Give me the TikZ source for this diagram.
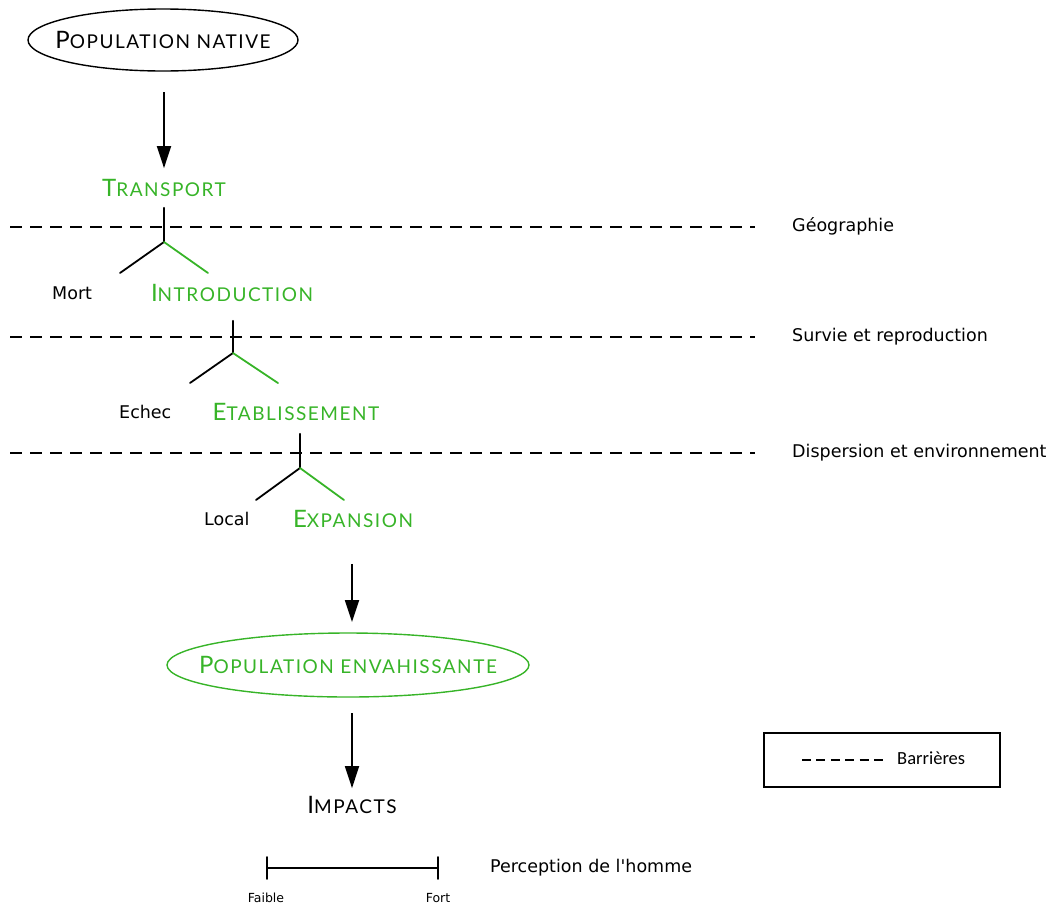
\documentclass[tikz,border=0pt]{standalone}
\usepackage{fontspec}
\setmainfont{DejaVu Sans}[Ligatures=TeXOff]
\newfontfamily\scfont{Lato}[LetterSpace=8]
\newfontfamily\legfont{Carlito}
\usetikzlibrary{arrows.meta,shapes.geometric}
\definecolor{grn}{RGB}{55,180,40}
\newcommand\SC[2]{{\fontsize{24}{24}\selectfont #1}{\fontsize{19}{19}\selectfont #2}}
\begin{document}
\begin{tikzpicture}[x=1pt,y=-1pt,
  ln/.style={line width=1.8pt,line cap=round},
  arr/.style={line width=1.8pt,-{Triangle[length=22pt,width=14pt]}},
  barrier/.style={line width=1.8pt,dash pattern=on 12pt off 8pt},
  scn/.style={font=\scfont,inner sep=0pt,anchor=center},
  lab/.style={font=\fontsize{17.5}{17.5}\selectfont,inner sep=0pt,anchor=mid west},
  sml/.style={font=\fontsize{12.5}{12.5}\selectfont,inner sep=0pt,anchor=center}]
\useasboundingbox (0,0) rectangle (1059,908);
% top ellipse
\node[scn] (native) at (163,40) {\SC{P}{OPULATION NATIVE}};
\draw[line width=1.4pt] (native.center) ellipse [x radius=135, y radius=31];
\coordinate (ntop) at (163,9); \coordinate (nbot) at (163,71);
\node[scn,text=grn] (transport) at (164,188) {\SC{T}{RANSPORT}};
\coordinate (f1) at (164,242);
\draw[arr,shorten <=21pt,shorten >=11pt] (nbot -| f1) -- (transport.north -| f1);
% barrier 1
\coordinate (b1l) at (10,227); \coordinate (b1r) at (755,227);
\draw[barrier] (b1l) -- (b1r);
\node[lab] (geo) at (792,229) {Géographie};
\coordinate (f1l) at (120,273); \coordinate (f1r) at (208,273);
\draw[ln,shorten <=11pt] (transport.south -| f1) -- (f1);
\draw[ln] (f1) -- (f1l);
\draw[ln,grn] (f1) -- (f1r);
\node[lab] (mort) at (52,297) {Mort};
\node[scn,text=grn] (intro) at (232,293) {\SC{I}{NTRODUCTION}};
% barrier 2
\coordinate (b2l) at (10,337); \coordinate (b2r) at (755,337);
\draw[barrier] (b2l) -- (b2r);
\node[lab] (surv) at (792,339) {Survie et reproduction};
\coordinate (f2) at (233,353);
\coordinate (f2l) at (190,383); \coordinate (f2r) at (278,383);
\draw[ln,shorten <=19pt] (intro.south -| f2) -- (f2);
\draw[ln] (f2) -- (f2l);
\draw[ln,grn] (f2) -- (f2r);
\node[lab] (echec) at (119,416) {Echec};
\node[scn,text=grn] (etab) at (296,412) {\SC{E}{TABLISSEMENT}};
% barrier 3
\coordinate (b3l) at (10,453); \coordinate (b3r) at (755,453);
\draw[barrier] (b3l) -- (b3r);
\node[lab] (disp) at (792,455) {Dispersion et environnement};
\coordinate (f3) at (300,468);
\coordinate (f3l) at (256,500); \coordinate (f3r) at (344,500);
\draw[ln,shorten <=13pt] (etab.south -| f3) -- (f3);
\draw[ln] (f3) -- (f3l);
\draw[ln,grn] (f3) -- (f3r);
\node[lab] (local) at (204,523) {Local};
\node[scn,text=grn] (expan) at (353,519) {\SC{E}{XPANSION}};
% invasive ellipse
\coordinate (ax) at (352,600);
\node[scn,text=grn] (inv) at (348,665) {\SC{P}{OPULATION ENVAHISSANTE}};
\draw[grn,line width=1.4pt] (inv.center) ellipse [x radius=181, y radius=32];
\coordinate (itop) at (352,633); \coordinate (ibot) at (352,697);
\coordinate (atip) at (352,622);
\draw[arr,shorten <=36pt] (expan.south -| ax) -- (atip);
\node[scn] (impacts) at (352,805) {\SC{I}{MPACTS}};
\draw[arr,shorten <=16pt,shorten >=8pt] (ibot) -- (impacts.north -| ax);
% scale bar
\coordinate (sl) at (267,868); \coordinate (sr) at (438,868);
\coordinate (slt) at (267,857); \coordinate (slb) at (267,879);
\coordinate (srt) at (438,857); \coordinate (srb) at (438,879);
\draw[ln] (sl) -- (sr);
\draw[ln] (slt) -- (slb);
\draw[ln] (srt) -- (srb);
\node[sml] (faible) at (266,898) {Faible};
\node[sml] (fort) at (438,898) {Fort};
\node[lab] (perc) at (490,870) {Perception de l'homme};
% legend
\node[draw,line width=1.4pt,minimum width=236,minimum height=54,inner sep=0pt] (leg) at (882,760) {};
\coordinate (ld1) at (802,760); \coordinate (ld2) at (884,760);
\draw[line width=1.8pt,dash pattern=on 9pt off 5.4pt] (ld1) -- (ld2);
\node[font=\legfont\fontsize{18.5}{18.5}\selectfont,inner sep=0pt,anchor=mid west] (barr) at (897,762) {Barrières};
\end{tikzpicture}
\end{document}
